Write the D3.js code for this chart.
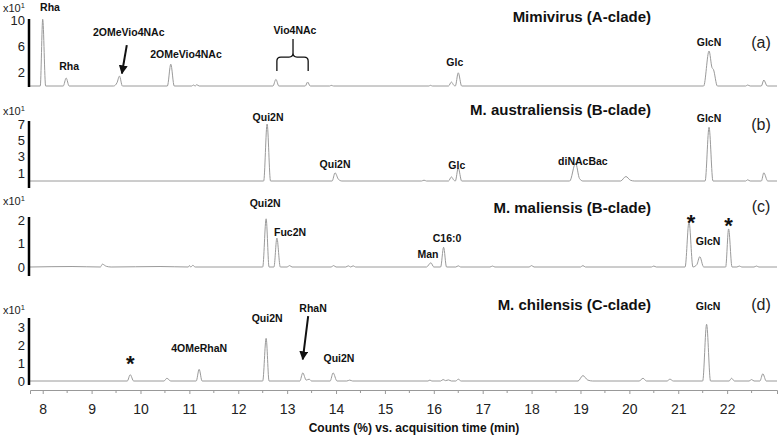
<!DOCTYPE html>
<html>
<head>
<meta charset="utf-8">
<script src="https://cdn.jsdelivr.net/npm/d3@7"></script>
<style>
  body { margin: 0; background: #fff; }
  svg { display: block; font-family: "Liberation Sans", Arial, sans-serif; }
</style>
</head>
<body>
<div id="chart"></div>
<script>
const width = 780;
const height = 439;

// [retention time (min), counts (x10^1)]
const traceA = [
  [7.74, 0], [7.95, 0], [8.0, 10.1], [8.06, 0],
  [8.42, 0], [8.48, 1.2], [8.54, 0],
  [9.45, 0], [9.52, 0.5], [9.57, 1.5], [9.63, 0],
  [10.55, 0], [10.62, 3.3], [10.69, 0],
  [11.05, 0], [11.08, 0.15], [11.12, 0], [11.15, 0.2], [11.2, 0],
  [12.71, 0], [12.77, 1.0], [12.83, 0],
  [13.37, 0], [13.42, 0.6], [13.47, 0],
  [13.87, 0], [13.9, 0.1], [13.95, 0],
  [15.9, 0], [15.93, 0.1], [15.97, 0],
  [16.3, 0], [16.36, 0.6], [16.41, 0.1], [16.44, 0], [16.5, 2.0], [16.57, 0],
  [21.52, 0], [21.63, 5.3], [21.69, 2.8], [21.72, 2.5], [21.8, 0],
  [22.38, 0], [22.42, 0.15], [22.47, 0],
  [22.7, 0], [22.75, 0.9], [22.82, 0],
  [23.02, 0]
];
const traceB = [
  [7.74, 0], [12.52, 0], [12.59, 7.0], [12.66, 0],
  [13.92, 0], [13.98, 1.0], [14.05, 0.2], [14.12, 0],
  [15.75, 0], [15.8, 0.1], [15.85, 0],
  [16.3, 0], [16.36, 0.5], [16.41, 0.1], [16.44, 0], [16.5, 1.6], [16.57, 0],
  [18.78, 0], [18.9, 2.2], [18.98, 0.3], [19.05, 0],
  [19.82, 0], [19.93, 0.55], [20.02, 0.1], [20.1, 0],
  [21.55, 0], [21.63, 6.6], [21.71, 0],
  [22.38, 0], [22.42, 0.15], [22.47, 0],
  [22.7, 0], [22.75, 1.0], [22.83, 0],
  [23.02, 0]
];
const traceC = [
  [7.74, 0], [8.6, 0.02], [9.18, 0], [9.22, 0.12], [9.3, 0.03], [9.4, 0],
  [10.4, 0.02], [10.98, 0], [11.0, 0.06], [11.03, 0], [11.07, 0.07], [11.12, 0],
  [12.5, 0], [12.57, 2.05], [12.63, 0], [12.73, 0], [12.79, 1.23], [12.86, 0],
  [13.0, 0], [13.05, 0.06], [13.1, 0],
  [13.9, 0], [13.95, 0.06], [14.0, 0], [14.2, 0], [14.25, 0.05], [14.3, 0], [14.35, 0.05], [14.4, 0],
  [15.85, 0], [15.94, 0.18], [16.0, 0], [16.14, 0], [16.2, 0.84], [16.26, 0],
  [16.45, 0], [16.5, 0.05], [16.55, 0], [17.15, 0], [17.2, 0.04], [17.25, 0],
  [17.95, 0], [18.0, 0.06], [18.05, 0], [19.0, 0], [19.05, 0.06], [19.1, 0],
  [20.45, 0], [20.5, 0.04], [20.55, 0],
  [21.14, 0], [21.22, 1.93], [21.3, 0], [21.38, 0.1], [21.44, 0.44], [21.52, 0],
  [21.97, 0], [22.03, 1.62], [22.1, 0],
  [22.2, 0], [22.25, 0.04], [22.3, 0], [22.55, 0], [22.6, 0.04], [22.65, 0],
  [23.02, 0]
];
const traceD = [
  [7.74, 0], [9.73, 0], [9.79, 0.35], [9.86, 0],
  [10.48, 0], [10.54, 0.15], [10.62, 0],
  [11.14, 0], [11.2, 0.65], [11.26, 0],
  [12.5, 0], [12.57, 2.37], [12.63, 0],
  [13.26, 0], [13.32, 0.45], [13.39, 0.05], [13.45, 0.1], [13.5, 0],
  [13.88, 0], [13.94, 0.45], [14.02, 0],
  [14.22, 0], [14.28, 0.05], [14.34, 0],
  [15.88, 0], [15.92, 0.05], [15.96, 0],
  [16.14, 0], [16.19, 0.08], [16.24, 0.02], [16.3, 0.06], [16.36, 0], [16.45, 0], [16.5, 0.1], [16.56, 0],
  [18.95, 0], [19.05, 0.3], [19.15, 0.05], [19.25, 0],
  [20.2, 0], [20.28, 0.15], [20.35, 0],
  [20.77, 0], [20.83, 0.1], [20.9, 0],
  [21.5, 0], [21.58, 3.15], [21.66, 0],
  [22.04, 0], [22.09, 0.15], [22.15, 0],
  [22.45, 0], [22.5, 0.08], [22.55, 0],
  [22.67, 0], [22.73, 0.4], [22.8, 0],
  [23.02, 0]
];

// y tick values (x10^1) per panel
const ticksA = [2, 6, 10];
const ticksB = [1, 3, 5, 7];
const ticksC = [0, 1, 2];
const ticksD = [0, 1, 2, 3];

// peak annotations, anchored at [time, counts]
const labelsA = [
  { text: "Rha", t: 8.15, v: 11.36 },
  { text: "Rha", t: 8.54, v: 2.42 },
  { text: "2OMeVio4NAc", t: 9.76, v: 7.58 },
  { text: "2OMeVio4NAc", t: 10.93, v: 4.24 },
  { text: "Vio4NAc", t: 13.16, v: 7.88 },
  { text: "Glc", t: 16.43, v: 3.03 },
  { text: "GlcN", t: 21.63, v: 6.06 }
];
const labelsB = [
  { text: "Qui2N", t: 12.61, v: 7.37 },
  { text: "Qui2N", t: 13.98, v: 1.62 },
  { text: "Glc", t: 16.47, v: 1.49 },
  { text: "diNAcBac", t: 19.05, v: 1.98 },
  { text: "GlcN", t: 21.63, v: 7.25 }
];
const labelsC = [
  { text: "Qui2N", t: 12.55, v: 2.55 },
  { text: "Fuc2N", t: 13.06, v: 1.32 },
  { text: "Man", t: 15.88, v: 0.38 },
  { text: "C16:0", t: 16.27, v: 1.06 },
  { text: "*", t: 21.26, v: 1.57, star: true },
  { text: "GlcN", t: 21.61, v: 0.94 },
  { text: "*", t: 22.03, v: 1.45, star: true }
];
const labelsD = [
  { text: "*", t: 9.79, v: 0.56, star: true },
  { text: "4OMeRhaN", t: 11.2, v: 1.61 },
  { text: "Qui2N", t: 12.59, v: 3.28 },
  { text: "RhaN", t: 13.53, v: 3.83 },
  { text: "Qui2N", t: 14.06, v: 1.06 },
  { text: "GlcN", t: 21.61, v: 3.94 }
];

// arrows [from, to] in [time, counts]
const arrowsA = [[[9.72, 6.2], [9.62, 1.9]]];
const arrowsD = [[[13.43, 3.61], [13.32, 1.2]]];

const titles = ["Mimivirus (A-clade)", "M. australiensis (B-clade)", "M. maliensis (B-clade)", "M. chilensis (C-clade)"];
const tags = ["(a)", "(b)", "(c)", "(d)"];
const xTicks = d3.range(8, 23);
const xMinorTicks = d3.range(8.5, 23, 1);

// layout of the four stacked panels
const panels = [
  { trace: traceA, ticks: ticksA, labels: labelsA, arrows: arrowsA, max: 10, base: 86, top: 20, line: [19, 87], titleY: 22, tagY: 48, unitY: 12 },
  { trace: traceB, ticks: ticksB, labels: labelsB, arrows: [], max: 7, base: 181, top: 124, line: [121, 188], titleY: 115, tagY: 130, unitY: 115 },
  { trace: traceC, ticks: ticksC, labels: labelsC, arrows: [], max: 2, base: 267, top: 220, line: [217, 276], titleY: 213, tagY: 212, unitY: 205 },
  { trace: traceD, ticks: ticksD, labels: labelsD, arrows: arrowsD, max: 3, base: 381, top: 327, line: [318, 385], titleY: 310, tagY: 310, unitY: 314 }
];

const x = d3.scaleLinear().domain([7.74, 23.02]).range([30, 777]);

const svg = d3.select("#chart").append("svg")
  .attr("width", width)
  .attr("height", height)
  .attr("viewBox", [0, 0, width, height]);

svg.append("defs").append("marker")
  .attr("id", "head")
  .attr("viewBox", "0 0 10 10")
  .attr("refX", 9).attr("refY", 5)
  .attr("markerWidth", 4.5).attr("markerHeight", 4.5)
  .attr("orient", "auto")
  .append("path")
  .attr("d", "M0,0 L10,5 L0,10 Z")
  .attr("fill", "#111");

panels.forEach((p, i) => {
  const y = d3.scaleLinear().domain([0, p.max]).range([p.base, p.top]);
  const g = svg.append("g");

  // trace
  const line = d3.line()
    .x(d => x(d[0]))
    .y(d => y(d[1]))
    .curve(d3.curveMonotoneX);
  g.append("path")
    .datum(p.trace)
    .attr("fill", "none")
    .attr("stroke", "#9a9a9a")
    .attr("stroke-width", 1)
    .attr("d", line);

  // y axis: thick black bar + tick labels
  g.append("line")
    .attr("x1", 29).attr("x2", 29)
    .attr("y1", p.line[0]).attr("y2", p.line[1])
    .attr("stroke", "#000").attr("stroke-width", 2.5);

  const ax = g.append("g")
    .attr("transform", "translate(29,0)")
    .call(d3.axisLeft(y).tickValues(p.ticks).tickSize(0).tickPadding(4).tickFormat(d3.format("d")));
  ax.select(".domain").remove();
  ax.selectAll("text").attr("font-size", 13).attr("fill", "#222")
    .style("font-family", "Liberation Sans, Arial, sans-serif");

  // x10^1 unit label
  const unit = g.append("text")
    .attr("x", 3).attr("y", p.unitY)
    .attr("font-size", 11).attr("fill", "#222");
  unit.append("tspan").text("x10");
  unit.append("tspan").attr("dy", -4).attr("font-size", 7.5).text("1");

  // title and panel letter
  g.append("text")
    .attr("x", 651).attr("y", p.titleY)
    .attr("text-anchor", "end")
    .attr("font-size", 15).attr("font-weight", "bold").attr("fill", "#111")
    .text(titles[i]);
  g.append("text")
    .attr("x", 761).attr("y", p.tagY)
    .attr("text-anchor", "middle")
    .attr("font-size", 16).attr("fill", "#222")
    .text(tags[i]);

  // peak labels
  g.selectAll(".peak")
    .data(p.labels)
    .join("text")
    .attr("class", "peak")
    .attr("x", d => x(d.t))
    .attr("y", d => y(d.v))
    .attr("text-anchor", "middle")
    .attr("font-size", d => d.star ? 22 : 10.5)
    .attr("font-weight", "bold")
    .attr("fill", "#111")
    .text(d => d.text);

  // arrows
  g.selectAll(".arrow")
    .data(p.arrows)
    .join("line")
    .attr("class", "arrow")
    .attr("x1", d => x(d[0][0])).attr("y1", d => y(d[0][1]))
    .attr("x2", d => x(d[1][0])).attr("y2", d => y(d[1][1]))
    .attr("stroke", "#111").attr("stroke-width", 2)
    .attr("marker-end", "url(#head)");

  // curly brace over the two Vio4NAc peaks
  if (i === 0) {
    const xl = x(12.79), xr = x(13.43), xm = x(13.12);
    const yb = y(2.27), yh = y(4.39), yt = y(7.12);
    const r = 4;
    const brace = d3.path();
    brace.moveTo(xl, yb);
    brace.lineTo(xl, yh + r);
    brace.quadraticCurveTo(xl, yh, xl + r, yh);
    brace.lineTo(xm - r, yh);
    brace.quadraticCurveTo(xm, yh, xm, yh - r);
    brace.lineTo(xm, yt);
    brace.moveTo(xm, yh - r);
    brace.quadraticCurveTo(xm, yh, xm + r, yh);
    brace.lineTo(xr - r, yh);
    brace.quadraticCurveTo(xr, yh, xr, yh + r);
    brace.lineTo(xr, yb);
    g.append("path")
      .attr("d", brace.toString())
      .attr("fill", "none")
      .attr("stroke", "#111")
      .attr("stroke-width", 1.3);
  }
});

// shared time axis
const xa = svg.append("g")
  .attr("transform", "translate(0,390)")
  .call(d3.axisBottom(x).tickValues(xTicks).tickSize(4).tickPadding(10).tickFormat(d3.format("d")));
xa.select(".domain").attr("stroke", "#999");
xa.selectAll(".tick line").attr("stroke", "#999");
xa.selectAll("text").attr("font-size", 14).attr("fill", "#222")
  .style("font-family", "Liberation Sans, Arial, sans-serif");

svg.append("g")
  .selectAll("line")
  .data(xMinorTicks)
  .join("line")
  .attr("x1", d => x(d)).attr("x2", d => x(d))
  .attr("y1", 390).attr("y2", 393)
  .attr("stroke", "#999");

svg.append("text")
  .attr("x", 414).attr("y", 432)
  .attr("text-anchor", "middle")
  .attr("font-size", 12).attr("font-weight", "bold").attr("fill", "#111")
  .text("Counts (%) vs. acquisition time (min)");
</script>
</body>
</html>
